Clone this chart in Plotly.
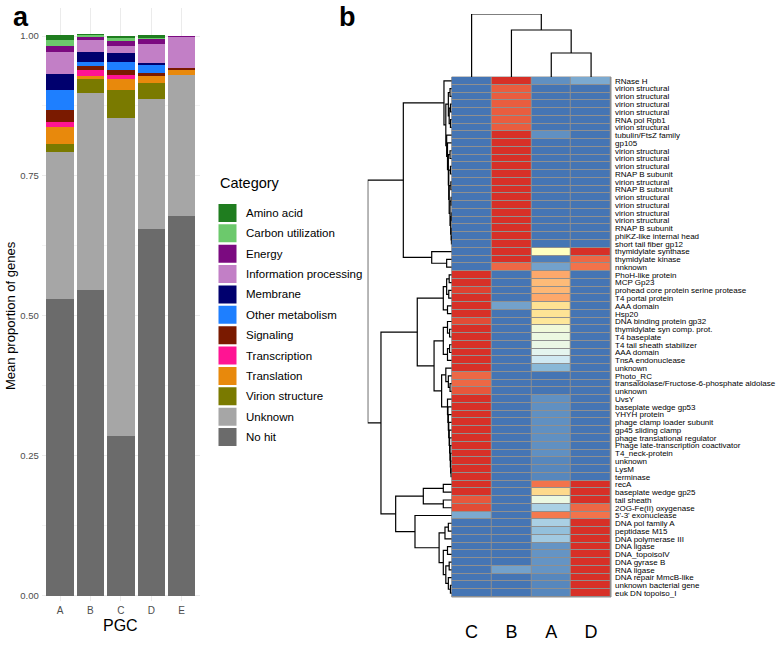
import plotly.graph_objects as go

W, H = 778, 657


def fx(p):
    return p / W


def fy(p):
    return 1 - p / H


FONT = 'Liberation Sans, Arial, sans-serif'

# ---------- panel a: stacked proportions ----------
PGC = ['A', 'B', 'C', 'D', 'E']

amino_acid = [0.010, 0.001, 0.0036, 0.0048, 0.0]
carbon_util = [0.009, 0.003, 0.006, 0.0015, 0.0]
energy = [0.012, 0.006, 0.0084, 0.010, 0.001]
info_proc = [0.039, 0.0227, 0.013, 0.033, 0.0555]
membrane = [0.028, 0.0179, 0.0155, 0.0042, 0.0]
other_metab = [0.036, 0.006, 0.0143, 0.013, 0.0]
signaling = [0.021, 0.0084, 0.009, 0.0066, 0.0042]
transcription = [0.0095, 0.0095, 0.0078, 0.0, 0.0]
translation = [0.030, 0.0054, 0.0197, 0.012, 0.009]
virion = [0.0155, 0.0245, 0.050, 0.0286, 0.0]
unknown = [0.262, 0.353, 0.568, 0.2325, 0.251]
no_hit = [0.530, 0.546, 0.285, 0.655, 0.679]

CATEGORIES = ['Amino acid', 'Carbon utilization', 'Energy', 'Information processing',
              'Membrane', 'Other metabolism', 'Signaling', 'Transcription',
              'Translation', 'Virion structure', 'Unknown', 'No hit']
CAT_VALUES = [amino_acid, carbon_util, energy, info_proc, membrane, other_metab,
              signaling, transcription, translation, virion, unknown, no_hit]
CAT_COLORS = ['#1f7d1f', '#6cc96c', '#7b0a80', '#c27fc6', '#00006e', '#1e7fff',
              '#7a1a00', '#ff1493', '#e8890c', '#7a7a00', '#a6a6a6', '#6b6b6b']

# ---------- panel b: heatmap ----------
HM_COLS = ['C', 'B', 'A', 'D']
ROW_LABELS = [
    'RNase H', 'virion structural', 'virion structural', 'virion structural',
    'virion structural', 'RNA pol Rpb1', 'virion structural', 'tubulin/FtsZ family',
    'gp105', 'virion structural', 'virion structural', 'virion structural',
    'RNAP B subunit', 'virion structural', 'RNAP B subunit', 'virion structural',
    'virion structural', 'virion structural', 'virion structural', 'RNAP B subunit',
    'phiKZ-like internal head', 'short tail fiber gp12', 'thymidylate synthase',
    'thymidylate kinase', 'nnknown', 'PhoH-like protein', 'MCP Gp23',
    'prohead core protein serine protease', 'T4 portal protein', 'AAA domain', 'Hsp20',
    'DNA binding protein gp32', 'thymidylate syn comp. prot.', 'T4 baseplate',
    'T4 tail sheath stabilizer', 'AAA domain', 'TnsA endonuclease', 'unknown',
    'Photo_RC', 'transaldolase/Fructose-6-phosphate aldolase', 'unknown', 'UvsY',
    'baseplate wedge gp53', 'YHYH protein', 'phage clamp loader subunit',
    'gp45 sliding clamp', 'phage translational regulator',
    'Phage late-transcription coactivator', 'T4_neck-protein', 'unknown', 'LysM',
    'terminase', 'recA', 'baseplate wedge gp25', 'tail sheath', '2OG-Fe(II) oxygenase',
    "5'-3' exonuclease", 'DNA pol family A', 'peptidase M15', 'DNA polymerase III',
    'DNA ligase', 'DNA_topoisoIV', 'DNA gyrase B', 'RNA ligase', 'DNA repair MmcB-like',
    'unknown bacterial gene', 'euk DN topoiso_I',
]

C_VALS = [
    0, 0, 0, 0, 0, 0, 0, 0, 0, 0,
    0, 0, 0, 0, 0, 0, 0, 0, 0, 0,
    0, 0, 0, 0, 0, 1, 1, .97, 1, 1,
    1, .95, 1, 1, 1, 1, 1, 1, .9, .9,
    .93, 1, 1, 1, 1, 1, 1, 1, 1, 1,
    1, 1, 1, 1, .93, .95, .12, 0, 0, 0,
    0, 0, 0, 0, 0, 0, 0]
B_VALS = [
    1, .92, .92, .92, .92, .92, .92, 1, 1, 1,
    1, 1, 1, 1, 1, 1, 1, 1, 1, 1,
    1, 1, 1, 1, .9, 0, 0, 0, 0, .1,
    0, 0, 0, 0, 0, 0, 0, 0, 0, 0,
    0, 0, 0, 0, 0, 0, 0, 0, 0, 0,
    0, 0, 0, 0, 0, 0, 0, 0, 0, 0,
    0, 0, 0, .1, 0, 0, 0]
A_VALS = [
    .06, 0, 0, 0, 0, 0, 0, .06, 0, 0,
    0, 0, 0, 0, 0, 0, 0, 0, 0, 0,
    0, 0, .5, .02, .1, .78, .74, .75, .78, .66,
    .65, .63, .42, .4, .39, .36, .3, .15, 0, 0,
    0, .06, .06, .06, .06, .06, .06, .06, .06, .04,
    .04, .04, .88, .68, .4, .22, .87, .22, .17, .2,
    .07, .07, .07, .07, .04, .04, .04]
D_VALS = [
    .12, 0, 0, 0, 0, 0, 0, 0, 0, 0,
    0, 0, 0, 0, 0, 0, 0, 0, 0, 0,
    0, 0, 1, .9, .88, 0, 0, 0, 0, 0,
    0, 0, 0, 0, 0, 0, 0, 0, 0, 0,
    0, 0, 0, 0, 0, 0, 0, 0, 0, 0,
    0, 0, 1, 1, 1, .9, .88, 1, 1, 1,
    1, 1, 1, 1, 1, 1, 1]

# rev(RdYlBu) like pheatmap
HM_SCALE = [[0, '#4575b4'], [1 / 6, '#91bfdb'], [2 / 6, '#e0f3f8'], [3 / 6, '#ffffbf'],
            [4 / 6, '#fee090'], [5 / 6, '#fc8d59'], [1, '#d73027']]

# dendrograms: [height, left, right]; row leaves are 1-based row numbers
COL_TREE = [1.0, 0, [0.746, 1, [0.381, 2, 3]]]

ROW_TOP = [0.04, [0.02, 2, 3], [0.03, [0.015, 4, 5], [0.015, 6, 7]]]
ROW_LADDER = [0.06, 8, [0.05, 9, [0.04, [0.02, 10, 11],
              [0.035, [0.015, 12, 13], [0.03, [0.01, 14, 15],
               [0.02, [0.008, 16, 17], [0.012, [0.005, 18, 19], [0.006, 20, [0.003, 21, 22]]]]]]]]]
ROW_C1A = [0.092, 1, [0.07, ROW_TOP, ROW_LADDER]]
ROW_C1B = [0.238, 23, [0.06, 24, 25]]
ROW_A1 = [0.1, [0.06, [0.03, 26, 27], [0.035, 28, 29]], [0.05, 30, 31]]
ROW_X = [0.1, [0.05, 32, [0.025, 33, 34]], [0.05, [0.025, 35, 36], 37]]
ROW_T = [0.07, 38, [0.04, 39, [0.02, 40, 41]]]
ROW_Z = [0.05, 42, [0.045, 43, [0.04, 44, [0.035, 45, [0.03, 46, [0.025, 47,
         [0.02, 48, [0.016, 49, [0.012, 50, [0.008, 51, 52]]]]]]]]]]
ROW_A2 = [0.21, ROW_X, [0.12, ROW_T, ROW_Z]]
ROW_B1 = [0.338, [0.1, 53, 54], [0.1, 55, 56]]
ROW_R = [0.15, [0.08, [0.04, 58, 59], 60],
         [0.1, [0.05, 61, 62], [0.07, [0.03, 63, 64], [0.04, 65, [0.015, 66, 67]]]]]
ROW_B2 = [0.437, 57, ROW_R]
ROW_TREE = [1.0, [0.576, ROW_C1A, ROW_C1B],
            [0.842, [0.41, ROW_A1, ROW_A2], [0.667, ROW_B1, ROW_B2]]]


def dendro_segments(tree, offset=0):
    """Return (positions, heights) polyline lists with None breaks."""
    pos, hts = [], []

    def walk(node):
        if isinstance(node, int):
            return node - offset, 0.0
        h, a, b = node
        pa, ha = walk(a)
        pb, hb = walk(b)
        pos.extend([pa, pa, pb, pb, None])
        hts.extend([ha, h, h, hb, None])
        return (pa + pb) / 2, h

    walk(tree)
    return pos, hts


fig = go.Figure()

# stacked bars, bottom category first
for name, vals, color in reversed(list(zip(CATEGORIES, CAT_VALUES, CAT_COLORS))):
    fig.add_trace(go.Bar(x=PGC, y=vals, name=name, width=0.9,
                         marker=dict(color=color, line=dict(width=0)),
                         xaxis='x', yaxis='y', showlegend=False))

# heatmap
z = [list(r) for r in zip(C_VALS, B_VALS, A_VALS, D_VALS)]
fig.add_trace(go.Heatmap(z=z, x=list(range(len(HM_COLS))), y=list(range(len(ROW_LABELS))),
                         colorscale=HM_SCALE, zmin=0, zmax=1, showscale=False,
                         xgap=1, ygap=1, xaxis='x2', yaxis='y2', hoverinfo='skip'))

# row dendrogram (height on x3, rows on y2)
rpos, rh = dendro_segments(ROW_TREE, offset=1)
fig.add_trace(go.Scatter(x=rh, y=rpos, mode='lines', line=dict(color='black', width=1.2),
                         xaxis='x3', yaxis='y2', showlegend=False, hoverinfo='skip'))

# column dendrogram (columns on x2, height on y3)
cpos, ch = dendro_segments(COL_TREE)
fig.add_trace(go.Scatter(x=cpos, y=ch, mode='lines', line=dict(color='black', width=1.2),
                         xaxis='x2', yaxis='y3', showlegend=False, hoverinfo='skip'))

# manual legend keys
fig.add_trace(go.Scatter(x=[9.5] * len(CATEGORIES), y=list(range(len(CATEGORIES))),
                         mode='markers',
                         marker=dict(symbol='square', size=18, color=CAT_COLORS, line=dict(width=0)),
                         xaxis='x4', yaxis='y4', showlegend=False, hoverinfo='skip'))

annotations = [
    dict(text=name, x=26, y=i, xref='x4', yref='y4', xanchor='left', yanchor='middle',
         showarrow=False, font=dict(size=11.5, color='black', family=FONT))
    for i, name in enumerate(CATEGORIES)
]
annotations += [
    dict(text='Category', x=fx(218), y=fy(183), xref='paper', yref='paper',
         xanchor='left', yanchor='middle', showarrow=False,
         font=dict(size=14.5, color='black', family=FONT)),
    dict(text='Mean proportion of genes', x=fx(10), y=fy(316), xref='paper', yref='paper',
         textangle=-90, xanchor='center', yanchor='middle', showarrow=False,
         font=dict(size=13, color='black', family=FONT)),
    dict(text='PGC', x=fx(120.9), y=fy(625), xref='paper', yref='paper',
         xanchor='center', yanchor='middle', showarrow=False,
         font=dict(size=16, color='black', family=FONT)),
    dict(text='<b>a</b>', x=fx(21), y=fy(0.5), xref='paper', yref='paper',
         xanchor='center', yanchor='top', showarrow=False, borderpad=0,
         font=dict(size=27, color='black', family=FONT)),
    dict(text='<b>b</b>', x=fx(347), y=fy(0.5), xref='paper', yref='paper',
         xanchor='center', yanchor='top', showarrow=False, borderpad=0,
         font=dict(size=27, color='black', family=FONT)),
]

hidden = dict(visible=False, showgrid=False, zeroline=False, showticklabels=False)

fig.update_layout(
    width=W, height=H,
    margin=dict(l=0, r=0, t=0, b=0),
    paper_bgcolor='white', plot_bgcolor='white',
    barmode='stack', showlegend=False,
    font=dict(family=FONT, color='black'),
    annotations=annotations,
    shapes=[dict(type='rect', xref='x2 domain', yref='y2 domain', x0=0, x1=1, y0=0, y1=1,
                 fillcolor='#8f8f8f', line=dict(color='#8f8f8f', width=1), layer='below')],
    xaxis=dict(domain=[fx(41.8), fx(199.9)], anchor='y', range=[-0.6, 4.6],
               showgrid=True, gridcolor='#ebebeb', gridwidth=1.2, zeroline=False,
               showline=False, ticks='', ticklabelstandoff=2,
               tickfont=dict(size=10, color='#4d4d4d')),
    yaxis=dict(domain=[fy(601), fy(8)], anchor='x', range=[-0.009, 1.05],
               tickvals=[0, 0.25, 0.5, 0.75, 1.0],
               ticktext=['0.00', '0.25', '0.50', '0.75', '1.00'],
               showgrid=True, gridcolor='#ebebeb', gridwidth=1.2, zeroline=False,
               showline=False, ticks='', ticklabelstandoff=2,
               tickfont=dict(size=9.5, color='#4d4d4d'),
               minor=dict(tickvals=[0.125, 0.375, 0.625, 0.875], showgrid=True,
                          gridcolor='#f3f3f3', gridwidth=0.8)),
    xaxis2=dict(domain=[fx(451.7), fx(611)], anchor='y2', range=[-0.5, 3.5],
                tickvals=list(range(len(HM_COLS))), ticktext=HM_COLS,
                showgrid=False, zeroline=False, showline=False, ticks='',
                ticklabelstandoff=22, tickfont=dict(size=18, color='black')),
    yaxis2=dict(domain=[fy(597), fy(77)], anchor='x2', side='right',
                range=[len(ROW_LABELS) - 0.5, -0.5],
                tickvals=list(range(len(ROW_LABELS))), ticktext=ROW_LABELS,
                showgrid=False, zeroline=False, showline=False, ticks='',
                ticklabelstandoff=3, tickfont=dict(size=8, color='black')),
    xaxis3=dict(domain=[fx(367.7), fx(451.7)], anchor='y2', range=[1.0, 0.0], **hidden),
    yaxis3=dict(domain=[fy(77), fy(14)], anchor='x2', range=[0, 1.0], **hidden),
    xaxis4=dict(domain=[fx(218), fx(358)], anchor='y4', range=[0, 140], **hidden),
    yaxis4=dict(domain=[fy(447.2), fy(202.8)], anchor='x4',
                range=[len(CATEGORIES) - 0.5, -0.5], **hidden),
)

# the page's default 8px body margin would shift the figure off the window
fig.write_html('out.html', config={'displayModeBar': False},
               post_script="document.body.style.margin='0';")
